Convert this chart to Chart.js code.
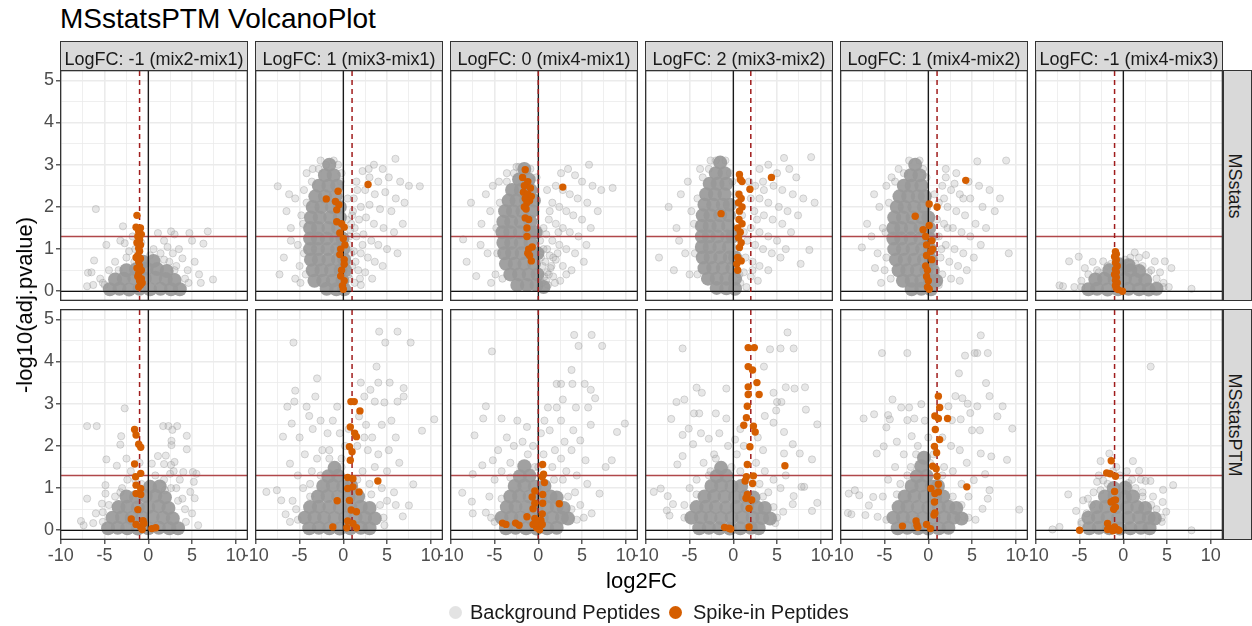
<!DOCTYPE html>
<html><head><meta charset="utf-8">
<script src="https://cdn.jsdelivr.net/npm/chart.js@4.4.1/dist/chart.umd.min.js"></script>
<style>
html,body{margin:0;padding:0;background:#fff;width:1252px;height:626px;overflow:hidden;position:relative;font-family:"Liberation Sans",Arial,Helvetica,sans-serif;}
canvas{position:absolute;}
.t{position:absolute;white-space:nowrap;}
.strip{position:absolute;background:#D9D9D9;border:1.3px solid #333;box-sizing:border-box;}
.key{position:absolute;width:13px;height:13px;border-radius:50%;}
</style></head><body>
<script>
// ---------------- data ----------------
const comparisons = ['mix2-mix1','mix3-mix1','mix4-mix1','mix3-mix2','mix4-mix2','mix4-mix3'];
const trueLogFC = [-1, 1, 0, 2, 1, -1];
const methods = ['MSstats', 'MSstatsPTM'];
const xTickValues = [-10,-7.5,-5,-2.5,0,2.5,5,7.5,10];
const xTickLabels = ['-10','','-5','','0','','5','','10'];
const yTickValues = [0,0.5,1,1.5,2,2.5,3,3.5,4,4.5,5];
const yTickLabels = ['0','','1','','2','','3','','4','','5'];
const sigThreshold = 1.3;
const legendLabels = ['Background Peptides','Spike-in Peptides'];

// background peptides, dense part of each cloud (x,y pairs)
const coreA1 = [-4.4,0.05,-3.3,0.06,-2.2,0.04,-1.0,0.06,0.2,0.05,1.4,0.06,2.6,0.05,3.6,0.05,-3.8,0.28,-2.8,0.3,-1.6,0.31,-0.4,0.3,0.8,0.32,2.0,0.29,3.0,0.27,-2.5,0.5,-1.4,0.52,-0.2,0.54,1.0,0.53,2.1,0.48,-0.6,0.7,0.6,0.72];
const coreA2 = [-1.6,3.0,-2.1,2.75,-1.1,2.75,-2.8,2.5,-1.7,2.5,-0.7,2.5,-3.2,2.25,-2.1,2.25,-0.9,2.25,-3.5,2.0,-2.5,2.0,-1.3,2.0,-0.4,2.0,-3.7,1.75,-2.7,1.75,-1.5,1.75,-0.4,1.75,-3.8,1.5,-2.9,1.5,-1.7,1.5,-0.6,1.5,-3.8,1.25,-2.9,1.25,-1.9,1.25,-0.8,1.25,-0.1,1.25,-3.8,1.0,-2.9,1.0,-1.8,1.0,-0.7,1.0,0.0,1.0,-3.7,0.75,-2.8,0.75,-1.7,0.75,-0.6,0.75,0.1,0.75,-3.5,0.5,-2.5,0.5,-1.4,0.5,-0.3,0.5,0.2,0.5,-3.3,0.25,-2.3,0.25,-1.2,0.25,-0.1,0.25,-1.9,0.06,-0.8,0.05,0.1,0.05];
const coreA3 = [-1.6,2.9,-2.2,2.65,-1.1,2.65,-3.0,2.4,-2.0,2.4,-0.9,2.4,-3.4,2.15,-2.5,2.15,-1.4,2.15,-0.5,2.15,-3.8,1.9,-2.9,1.9,-1.8,1.9,-0.7,1.9,-4.0,1.65,-3.1,1.65,-2.0,1.65,-0.9,1.65,-4.1,1.4,-3.2,1.4,-2.1,1.4,-1.0,1.4,-0.3,1.4,-4.0,1.15,-3.1,1.15,-2.0,1.15,-0.9,1.15,-3.9,0.9,-3.0,0.9,-1.9,0.9,-0.8,0.9,-0.1,0.9,-3.7,0.65,-2.7,0.65,-1.6,0.65,-0.5,0.65,-3.2,0.4,-2.2,0.4,-1.1,0.4,-0.1,0.4,-2.4,0.15,-1.3,0.15,-0.2,0.15,0.6,0.1];
const coreA4 = [-1.5,3.05,-2.0,2.8,-1.0,2.8,-2.7,2.55,-1.8,2.55,-0.8,2.55,-3.1,2.3,-2.1,2.3,-1.0,2.3,-3.3,2.05,-2.3,2.05,-1.2,2.05,-0.4,2.05,-3.5,1.8,-2.6,1.8,-1.5,1.8,-0.5,1.8,-3.6,1.55,-2.7,1.55,-1.7,1.55,-0.6,1.55,-3.6,1.3,-2.8,1.3,-1.8,1.3,-0.7,1.3,-0.1,1.3,-3.6,1.05,-2.7,1.05,-1.6,1.05,-0.5,1.05,-3.5,0.8,-2.6,0.8,-1.5,0.8,-0.4,0.8,0.2,0.8,-3.3,0.55,-2.3,0.55,-1.2,0.55,-0.1,0.55,-2.9,0.3,-1.9,0.3,-0.8,0.3,0.2,0.3,-1.9,0.08,-0.8,0.07,0.2,0.06];
const coreA5 = [-1.5,3.0,-2.0,2.75,-1.0,2.75,-2.8,2.5,-1.9,2.5,-0.8,2.5,-3.3,2.25,-2.3,2.25,-1.2,2.25,-0.4,2.25,-3.6,2.0,-2.7,2.0,-1.6,2.0,-0.5,2.0,-3.9,1.75,-2.9,1.75,-1.8,1.75,-0.7,1.75,0.0,1.75,-4.0,1.5,-3.1,1.5,-2.0,1.5,-0.9,1.5,0.1,1.5,-4.0,1.25,-3.1,1.25,-2.0,1.25,-0.9,1.25,0.1,1.25,-3.9,1.0,-2.9,1.0,-1.8,1.0,-0.7,1.0,0.2,1.0,-3.7,0.75,-2.7,0.75,-1.6,0.75,-0.5,0.75,0.3,0.75,-3.4,0.5,-2.4,0.5,-1.3,0.5,-0.2,0.5,0.5,0.5,-2.9,0.25,-1.9,0.25,-0.8,0.25,0.2,0.25,0.9,0.25,-1.9,0.05,-0.8,0.06,0.3,0.05];
const coreA6 = [-4.0,0.05,-3.0,0.06,-1.8,0.04,-0.6,0.05,0.6,0.06,1.8,0.05,2.9,0.04,3.8,0.06,-3.2,0.28,-2.2,0.3,-1.0,0.28,0.2,0.3,1.4,0.28,2.5,0.27,-1.6,0.5,-0.4,0.52,0.8,0.5,1.8,0.48,-0.5,0.64,0.6,0.62];
const coreB1 = [-4.6,0.05,-3.5,0.06,-2.4,0.05,-1.2,0.04,0.0,0.05,1.2,0.06,2.4,0.05,3.4,0.05,-4.1,0.3,-3.0,0.31,-1.9,0.29,-0.7,0.3,0.5,0.32,1.7,0.3,2.8,0.28,-3.4,0.55,-2.4,0.56,-1.2,0.54,0.0,0.55,1.2,0.57,2.3,0.53,-2.5,0.8,-1.4,0.79,-0.3,0.81,0.8,0.82,1.9,0.78,0.2,1.03,1.3,1.04];
const coreB2 = [-3.9,0.05,-2.8,0.06,-1.6,0.05,-0.4,0.04,0.8,0.05,2.0,0.06,3.0,0.05,-4.4,0.3,-3.3,0.31,-2.2,0.3,-1.0,0.29,0.2,0.3,1.4,0.31,2.5,0.3,3.6,0.28,-3.8,0.55,-2.8,0.56,-1.6,0.55,-0.4,0.54,0.8,0.55,2.0,0.56,3.0,0.53,-2.9,0.8,-1.8,0.81,-0.6,0.8,0.6,0.79,1.7,0.8,-2.3,1.05,-1.2,1.06,0.0,1.04,0.9,1.05,-1.7,1.28,-0.6,1.29,-1.0,1.48];
const coreB3 = [-3.7,0.05,-2.6,0.06,-1.4,0.05,-0.2,0.04,1.0,0.05,2.1,0.06,-4.2,0.3,-3.1,0.31,-2.0,0.3,-0.8,0.29,0.4,0.3,1.6,0.31,2.7,0.3,3.4,0.28,-3.6,0.55,-2.6,0.56,-1.4,0.55,-0.2,0.54,1.0,0.55,2.1,0.56,2.9,0.53,-3.2,0.8,-2.2,0.81,-1.0,0.8,0.2,0.79,1.4,0.8,2.1,0.78,-2.7,1.05,-1.6,1.06,-0.4,1.04,0.7,1.05,-2.1,1.28,-1.0,1.29,-1.6,1.52];
const coreB4 = [-3.9,0.05,-2.8,0.06,-1.6,0.05,-0.4,0.04,0.8,0.05,2.0,0.06,2.9,0.05,-4.8,0.3,-3.7,0.31,-2.6,0.3,-1.4,0.29,-0.2,0.3,1.0,0.31,2.2,0.3,3.3,0.29,4.2,0.28,-4.2,0.55,-3.1,0.56,-2.0,0.55,-0.8,0.54,0.4,0.55,1.6,0.56,2.7,0.54,3.6,0.53,-3.3,0.8,-2.2,0.81,-1.0,0.8,0.2,0.79,1.4,0.8,2.3,0.78,-2.5,1.05,-1.4,1.06,-0.2,1.04,0.9,1.05,-1.9,1.28,-0.8,1.29,-1.4,1.48];
const coreB5 = [-3.5,0.05,-2.4,0.06,-1.2,0.05,0.0,0.04,1.2,0.05,2.3,0.06,-4.0,0.3,-2.9,0.31,-1.8,0.3,-0.6,0.29,0.6,0.3,1.8,0.31,2.9,0.3,3.8,0.28,-3.4,0.55,-2.4,0.56,-1.2,0.55,0.0,0.54,1.2,0.55,2.3,0.56,3.2,0.53,-2.7,0.8,-1.6,0.81,-0.4,0.8,0.8,0.79,1.7,0.8,-1.9,1.05,-0.8,1.06,0.4,1.04,1.1,1.05,-1.3,1.28,-0.2,1.29,-0.8,1.52,-0.5,1.72];
const coreB6 = [-3.9,0.05,-2.8,0.06,-1.6,0.05,-0.4,0.04,0.8,0.05,2.0,0.06,3.0,0.05,-4.0,0.3,-2.9,0.31,-1.8,0.3,-0.6,0.29,0.6,0.3,1.8,0.31,2.9,0.3,3.6,0.28,-3.1,0.55,-2.0,0.56,-0.8,0.55,0.4,0.54,1.6,0.55,2.5,0.53,-2.1,0.8,-1.0,0.81,0.2,0.79,1.1,0.8,-1.1,1.0,0.2,1.01];

// background peptides, scattered part of each cloud (x,y pairs)
const sparseA1 = [-6.0,1.95,-2.9,1.54,-2.7,1.14,-3.2,1.2,1.1,1.38,2.6,1.42,3.0,1.35,4.7,1.38,6.8,1.42,5.0,1.2,6.3,1.13,-4.8,1.1,-6.2,0.73,-6.9,0.44,-6.5,0.45,7.4,0.28,-7.0,0.12,-6.3,0.15,5.3,0.7,3.9,0.78,1.8,1.2,2.2,1.05,3.5,1.0,-1.8,1.3,-2.2,0.95,-3.8,0.7,-4.5,0.5,4.5,0.5,5.8,0.4,0.6,1.0,1.4,0.9,2.8,0.9,-5.5,0.3,6.0,0.2,-2.5,0.8,3.2,0.6,-1.5,1.0,0.2,0.85,-0.8,1.15,4.2,0.3,-5.0,0.15,2.4,0.7,-5.2,0.2,4.6,0.2,-3.4,0.5,3.0,0.5,-1.6,0.7,1.8,0.75];
const sparseA2 = [5.96,3.14,8.75,2.49,3.5,3.0,4.5,2.9,2.2,2.85,3.0,2.7,4.0,2.6,5.2,2.7,6.5,2.6,7.5,2.5,1.5,2.6,2.5,2.4,3.6,2.3,4.8,2.35,6.0,2.2,7.0,2.1,1.2,2.2,2.0,2.0,3.0,2.05,4.2,1.95,5.5,1.9,6.8,1.6,1.0,1.8,1.8,1.7,2.6,1.75,3.5,1.6,4.6,1.5,5.8,1.4,0.8,1.45,1.5,1.3,2.3,1.35,3.2,1.2,4.0,1.1,5.0,1.0,6.2,0.9,0.6,1.1,1.2,0.95,2.0,0.9,2.8,0.8,3.6,0.7,4.5,0.6,0.5,0.7,1.0,0.6,1.7,0.5,2.5,0.45,3.3,0.3,0.7,0.3,1.3,0.2,2.0,0.15,0.9,1.6,1.6,2.4,2.9,2.9,-7.5,2.49,-7.3,0.4,-6.5,1.9,-6.0,1.5,-5.5,2.2,-5.2,1.1,-6.8,0.8,-5.0,0.6,-4.8,1.8,-5.5,0.3,-4.5,2.4,-4.2,2.8,-3.5,2.9,-6.2,2.3,-6.0,1.2,-4.9,0.2,-2.6,3.1,-0.6,3.0,-0.3,2.6,0.6,0.4,0.9,0.9,1.4,0.7,0.7,1.3,1.1,1.9,0.5,2.2,1.3,1.5,0.4,1.7,2.2,1.1,1.9,0.3,-4.6,1.6,-4.5,0.9,-4.2,2.1,-3.6,2.6,-2.8,2.9,-4.3,0.4,-0.2,2.8,-1.1,3.1,-2.0,3.0];
const sparseA3 = [5.8,3.0,8.5,2.45,2.6,2.8,3.4,2.9,4.2,2.75,5.0,2.6,6.2,2.5,7.2,2.4,2.0,2.5,2.8,2.4,3.6,2.3,4.5,2.2,5.6,2.1,6.8,1.9,1.6,2.1,2.4,2.0,3.2,1.9,4.0,1.8,5.0,1.7,6.0,1.5,1.2,1.7,2.0,1.6,2.8,1.5,3.6,1.4,4.6,1.3,5.5,1.1,0.9,1.35,1.6,1.2,2.4,1.1,3.2,1.0,4.2,0.9,5.2,0.7,0.6,1.0,1.3,0.85,2.0,0.75,2.8,0.6,3.8,0.5,0.5,0.6,1.0,0.45,1.7,0.35,2.5,0.25,0.4,0.2,1.1,0.15,0.8,0.7,1.4,0.55,2.2,0.9,1.0,1.0,0.7,0.35,-8.6,1.23,-7.7,2.1,-8.2,0.7,-7.1,0.36,-6.5,1.6,-6.0,2.3,-5.8,0.9,-5.5,1.9,-6.6,1.1,-5.2,2.5,-4.9,0.4,-4.5,2.6,-3.6,2.8,-5.4,0.2,-2.5,2.95,-0.8,2.6,-0.3,2.2,-4.8,1.5,-4.7,0.9,-4.4,2.1,-3.6,2.6,-2.8,2.8,-4.1,0.3,-0.2,2.7,-0.9,2.9,-2.2,2.95,0.3,0.8,0.6,1.5,1.3,1.9,0.2,1.2,2.3,1.4,1.0,2.4,1.9,0.2,3.2,0.4,1.2,0.4,1.7,0.8,0.9,0.25,1.5,0.6];
const sparseA4 = [5.8,3.16,8.9,3.18,9.3,2.1,8.7,0.98,7.7,0.65,3.0,2.9,4.0,3.0,5.0,2.8,6.4,2.9,7.2,2.7,2.5,2.5,3.4,2.6,4.6,2.5,5.6,2.4,6.8,2.3,8.0,2.2,2.0,2.2,3.0,2.2,4.0,2.1,5.2,2.0,6.2,1.9,7.4,1.8,2.4,1.9,3.5,1.8,4.5,1.7,5.6,1.6,6.6,1.4,2.0,1.5,3.0,1.4,4.0,1.3,5.0,1.2,6.0,1.0,1.6,1.2,2.5,1.1,3.4,1.0,4.4,0.9,5.4,0.8,1.4,0.8,2.2,0.7,3.0,0.6,4.0,0.5,1.2,0.45,2.0,0.35,2.8,0.25,0.8,0.2,1.5,0.1,3.5,2.4,2.7,1.7,-7.4,2.0,-8.5,0.8,-6.5,1.5,-6.0,2.3,-5.5,0.9,-6.8,0.5,-5.2,2.6,-4.8,1.9,-5.0,0.4,-6.2,1.2,-3.8,2.9,-2.6,3.1,-0.4,2.8,-4.5,1.6,-4.4,0.9,-4.1,2.2,-3.5,2.7,-2.8,2.9,-4.1,0.4,-0.1,2.6,-0.9,3.1,0.5,1.0,1.0,1.8,0.3,2.3,1.8,2.6,2.2,0.5,0.7,0.4,1.2,1.4,-2.0,3.1];
const sparseA5 = [5.6,3.08,8.9,3.1,9.2,0.9,-6.1,0.55,-7.6,1.04,2.0,2.9,3.2,2.8,4.6,2.6,5.8,2.5,7.0,2.4,8.2,2.2,1.6,2.5,2.6,2.4,3.6,2.3,4.8,2.2,6.2,2.0,7.6,1.9,1.2,2.1,2.2,2.0,3.2,1.9,4.2,1.8,5.4,1.6,6.6,1.5,1.0,1.7,1.8,1.6,2.8,1.5,3.8,1.4,4.8,1.3,6.0,1.1,1.2,1.3,2.0,1.1,3.0,1.0,4.0,0.9,5.2,0.8,1.4,0.8,2.4,0.7,3.4,0.6,4.4,0.5,1.6,0.4,2.6,0.3,3.6,0.25,1.2,0.15,2.0,2.7,3.0,2.55,4.0,2.2,-6.2,2.3,-5.6,2.0,-5.2,1.5,-6.5,1.3,-5.8,0.9,-5.0,0.5,-7.0,1.6,-4.8,2.5,-4.2,2.7,-3.4,2.9,-5.4,0.2,-2.2,3.1,-0.6,2.9,-4.9,1.4,-4.8,0.8,-4.5,2.1,-3.8,2.6,-2.8,2.8,-4.3,0.3,0.7,2.3,0.9,1.3,0.6,0.6,1.5,1.0,1.8,2.2,-0.2,2.7,-1.0,3.1,0.9,0.3,2.2,1.5];
const sparseA6 = [-6.2,0.71,-5.1,0.82,1.3,0.92,2.6,0.86,3.6,0.71,4.75,0.71,5.5,0.55,7.8,0.06,-7.3,0.14,-6.9,0.12,-2.3,0.71,-3.5,0.7,1.8,0.8,0.8,0.8,2.2,0.6,3.2,0.5,4.2,0.45,-3.0,0.5,-4.0,0.4,-4.8,0.25,4.6,0.2,5.2,0.1,-5.6,0.1,-1.8,0.6,0.2,0.75,3.8,0.3,-4.4,0.55,-4.8,0.1,4.6,0.1,-2.8,0.45,2.9,0.45,-1.4,0.65,1.4,0.65];
const sparseB1 = [-2.7,2.89,-7.0,2.47,-5.9,2.47,-3.1,2.23,-3.2,2.03,1.7,2.47,2.3,2.47,3.3,2.47,2.75,2.38,2.65,2.12,2.65,2.02,4.4,2.24,4.4,1.92,-4.8,1.68,-3.6,1.53,1.1,1.76,2.0,1.77,1.8,1.57,2.6,1.55,3.0,1.62,4.0,1.38,5.1,1.38,5.5,1.34,5.2,1.15,4.8,0.91,5.3,0.76,5.7,0.12,-7.0,0.75,-7.7,0.22,-7.4,0.12,-4.9,1.07,-4.9,0.87,-5.3,0.63,-6.3,0.17,-5.2,0.43,-2.5,1.7,-2.4,1.2,-1.0,1.6,0.4,1.58,3.9,0.75,4.2,0.5,1.8,1.2,2.5,1.34,-3.0,1.0,-2.0,1.4,3.2,1.0,-1.5,1.2,0.8,1.3,3.6,1.2,-3.8,0.8,-6.0,0.4,5.0,0.4,2.9,1.4,-5.2,0.2,-4.5,0.6,4.3,0.2,3.4,0.7,-3.2,0.9,2.6,1.0,-0.8,1.1,1.9,0.95];
const sparseB2 = [4.1,4.71,6.2,4.71,-5.7,4.45,4.8,4.45,7.7,4.45,3.8,3.88,-3.0,3.6,-5.5,3.31,-5.6,3.05,-3.2,3.17,-6.4,2.93,-4.2,2.93,-3.9,2.71,-0.7,2.93,2.0,3.5,3.1,3.33,4.0,3.5,5.3,3.5,6.9,3.37,6.9,3.17,6.2,3.05,4.7,3.03,3.6,3.05,2.4,3.17,10.4,2.63,9.0,2.36,-6.9,2.22,-5.9,2.53,-8.8,0.91,-7.6,0.95,-7.1,0.71,-6.6,0.38,-6.1,0.2,8.0,1.09,7.5,0.59,6.8,0.33,4.7,0.12,-6.1,1.58,-5.0,2.2,-4.4,1.8,-5.2,1.3,-3.5,2.4,-2.6,2.6,-1.8,2.3,-2.4,1.9,-1.2,2.6,-0.4,2.3,0.2,2.0,-0.2,1.7,1.8,2.7,2.6,2.5,3.3,2.2,4.4,2.5,5.5,2.6,6.0,2.2,5.2,1.9,4.0,1.8,2.8,1.9,3.6,1.5,5.0,1.4,6.4,1.6,2.2,1.4,3.0,1.1,4.4,1.0,5.8,0.9,-3.6,1.4,-4.6,1.0,-5.8,0.7,-3.8,1.1,1.6,2.0,0.6,2.4,6.0,0.6,5.0,0.7,-5.4,0.5,2.4,2.2,-1.6,1.9,-3.0,1.7,-5.2,0.25,4.6,0.3,-3.8,0.8,3.2,0.85,-2.6,1.3,1.6,1.2,-0.2,1.5,-1.6,1.7,4.2,0.6];
const sparseB3 = [4.1,4.63,6.1,4.63,4.6,4.37,7.3,4.37,-5.3,4.24,3.8,3.8,3.9,3.47,2.1,3.47,2.6,3.47,5.3,3.47,6.0,3.33,6.5,3.13,2.8,3.1,1.1,2.91,2.1,2.91,4.3,2.91,5.7,2.91,-6.0,2.94,-6.3,2.65,-7.3,2.25,9.9,2.53,9.0,2.33,-8.7,0.89,-7.5,1.33,-6.4,1.54,-7.6,0.68,-7.5,0.4,-6.0,0.42,8.4,1.66,7.7,1.5,7.0,0.87,6.1,0.4,0.7,2.6,2.6,2.6,6.0,2.5,-4.2,2.65,-2.4,2.6,-1.3,2.45,-3.6,2.2,0.3,2.3,1.3,2.37,4.0,2.37,4.8,2.13,3.8,1.9,5.4,1.66,-4.6,1.9,-5.2,1.66,1.9,1.9,-2.8,2.0,-1.8,2.1,-0.6,2.0,0.6,1.8,2.6,1.7,3.2,1.4,4.4,1.3,5.6,1.1,-5.0,1.2,-4.2,1.4,-5.6,0.8,1.6,1.5,2.8,1.2,4.2,0.9,4.8,0.6,5.2,0.3,-5.4,0.3,-3.2,1.6,0.0,1.5,3.0,2.1,-5.0,0.2,4.4,0.25,-4.2,0.75,3.4,0.8,-3.2,1.25,1.8,1.2,-0.4,1.5,-1.2,1.8,3.8,0.5];
const sparseB4 = [6.2,4.69,-5.8,4.31,4.2,4.29,5.4,4.31,6.9,4.31,3.5,3.88,-4.2,3.38,-3.6,3.26,-0.8,3.36,-6.5,3.04,-5.6,3.1,4.6,3.26,6.0,3.39,7.0,3.36,8.2,3.39,5.0,3.04,5.5,3.04,8.3,2.86,-4.5,2.77,-3.9,2.77,-2.0,2.77,-7.1,2.64,-0.8,2.65,3.6,2.71,4.9,2.84,9.6,2.51,4.6,2.55,5.8,2.33,-5.8,2.26,-5.1,2.41,-4.6,2.04,-3.7,2.3,-2.8,2.17,6.8,2.04,9.0,1.68,7.6,1.82,5.8,1.82,-6.4,1.56,-5.8,1.76,-9.1,0.91,-8.3,0.99,-7.5,0.81,-6.9,0.62,-7.6,0.47,-7.3,0.35,9.6,0.65,9.0,0.46,7.8,1.03,8.1,1.03,6.9,0.81,6.8,0.62,5.7,0.44,4.8,0.17,0.2,2.15,0.8,2.4,1.2,2.0,2.8,2.2,3.4,1.9,2.6,1.6,0.4,1.8,-0.6,2.0,-1.6,2.3,-2.2,1.8,-3.4,1.6,-4.2,1.2,-5.0,1.0,-5.6,0.6,3.6,1.4,4.6,1.2,5.4,1.0,4.0,0.9,6.0,1.3,-2.6,1.4,0.8,1.4,3.0,1.1,-5.6,0.3,5.0,0.3,-4.2,0.85,3.4,0.8,-2.8,1.3,1.6,1.2,-0.2,1.5,-2.0,1.7,4.6,0.55];
const sparseB5 = [6.0,4.62,-5.3,4.2,-2.4,4.2,4.2,4.14,5.3,4.2,5.6,4.2,6.8,4.2,3.5,3.72,6.6,3.49,7.0,3.18,-4.1,3.1,3.1,3.18,3.9,3.13,4.5,3.0,5.6,2.94,8.5,2.94,-0.8,2.99,-3.1,2.91,-2.2,2.91,-7.4,2.65,-6.2,2.75,-4.6,2.73,-4.4,2.63,-2.4,2.61,-1.6,2.65,2.3,2.94,2.7,2.61,3.7,2.63,4.8,2.78,7.9,2.7,9.6,2.41,5.0,2.37,5.9,2.37,-4.8,2.44,-1.9,2.23,-5.9,1.82,-5.1,1.99,9.0,1.67,7.2,1.75,6.0,1.82,6.5,1.33,-9.1,0.87,-8.4,0.95,-7.9,0.83,-9.2,0.41,-8.8,0.38,-7.2,0.36,-6.8,0.59,-6.3,0.79,10.4,0.49,7.0,0.95,6.8,0.75,6.2,0.51,5.4,0.25,4.1,0.32,-5.8,0.32,5.2,1.19,-3.6,2.1,-2.8,1.8,-3.8,1.5,-4.6,1.2,-5.2,0.8,1.6,2.2,2.6,2.0,3.6,1.9,4.4,1.6,2.8,1.4,3.8,1.1,4.6,0.8,-1.2,2.0,0.0,2.2,-0.4,2.6,0.6,1.8,-2.0,1.5,1.8,1.5,-3.2,1.1,-4.8,0.25,4.6,0.3,-3.6,0.85,2.8,0.8,-2.4,1.3,1.6,1.3,0.2,1.6,-1.4,1.8,3.8,0.6];
const sparseB6 = [3.13,3.88,-1.6,1.82,-2.6,1.64,1.1,1.64,1.8,1.41,2.55,1.17,3.1,1.17,5.7,1.07,4.55,0.96,-6.3,0.85,-3.0,1.15,-4.05,0.75,-4.6,0.71,-5.4,0.46,4.9,0.44,4.5,0.67,-8.1,0.02,-7.3,0.08,7.8,0.0,0.6,1.12,-2.3,1.18,-3.4,0.9,-1.2,1.4,-0.4,1.3,1.4,1.0,2.2,0.9,3.4,0.8,-4.2,0.4,3.8,0.5,4.4,0.2,-4.8,0.15,-2.8,1.3,2.0,1.2,-0.8,1.5,0.4,1.4,-4.8,0.2,4.4,0.3,-3.6,0.6,3.2,0.6,-2.6,0.95,2.2,0.8,-1.8,1.1,1.0,1.2];

// spike-in peptides (x,y pairs)
const spikeA1 = [-1.3,1.8,-1.4,1.52,-0.9,1.5,-1.1,1.42,-0.8,1.35,-1.2,1.3,-1.0,1.22,-1.3,1.15,-0.9,1.1,-1.1,1.02,-1.0,0.95,-1.2,0.85,-1.4,0.8,-0.9,0.78,-1.1,0.7,-1.0,0.6,-1.3,0.55,-0.8,0.5,-1.1,0.42,-1.2,0.35,-0.8,0.3,-1.0,0.25,-0.9,0.15,-1.1,0.1,-0.7,0.2];
const spikeA2 = [-0.6,2.37,-1.95,2.19,-0.9,2.13,-0.75,1.93,-0.5,2.05,2.83,2.53,-0.75,1.65,0.1,1.52,-0.2,1.6,-0.4,1.38,0.0,1.25,0.18,1.1,-0.3,1.0,-0.4,0.87,0.1,0.75,0.1,0.64,-0.2,0.5,-0.3,0.36,0.1,0.25,-0.1,0.13,0.0,0.05];
const spikeA3 = [-1.5,2.88,-1.8,2.7,-1.2,2.6,-1.6,2.5,-0.9,2.45,-1.7,2.35,-1.2,2.3,-0.8,2.25,-1.5,2.2,-1.0,2.15,-1.3,2.1,-1.6,2.0,-1.4,1.95,2.8,2.47,-1.5,1.74,-1.1,1.7,-1.3,1.5,-1.3,1.3,-1.1,1.0,-1.2,0.9,-0.8,0.72,-1.0,0.85,-0.7,1.05];
const spikeA4 = [0.7,2.77,1.0,2.6,0.8,2.65,1.9,2.42,0.65,2.3,0.9,2.2,0.6,2.1,1.0,2.0,0.7,1.9,-1.4,1.84,4.36,2.7,0.65,1.7,1.0,1.6,0.5,1.5,0.8,1.4,0.6,1.27,0.9,1.15,0.7,1.04,0.5,0.8,0.9,0.72,0.4,0.65,0.5,0.5];
const spikeA5 = [4.28,2.63,0.1,2.07,1.0,2.0,-1.5,1.78,-0.6,1.46,0.1,1.56,-0.3,1.3,0.4,1.2,-0.2,1.1,0.3,0.95,-0.2,0.85,0.4,0.75,-0.3,0.6,-0.1,0.5,-0.2,0.35,0.0,0.25,-0.1,0.1,0.1,0.05,0.5,1.0];
const spikeA6 = [-0.9,0.94,-0.8,0.88,-1.0,0.82,-0.8,0.75,-0.9,0.68,-0.7,0.6,-0.9,0.52,-0.8,0.45,-1.0,0.4,-0.8,0.33,-0.9,0.26,-0.7,0.2,-0.9,0.14,-0.8,0.08,-0.6,0.04,-0.1,0.0];
const spikeB1 = [-1.57,2.39,-1.4,2.26,-1.1,2.04,-0.87,1.97,-1.57,1.57,-1.45,1.27,-0.87,1.35,-1.4,1.07,-0.87,0.99,-1.4,0.87,-0.87,0.85,-1.2,0.49,-1.95,0.27,-0.6,0.23,-1.4,0.14,-0.87,0.08,-0.7,0.02,0.4,0.04,0.85,0.06,-0.5,0.16];
const spikeB2 = [0.87,3.05,1.25,3.05,1.9,2.83,0.8,2.45,1.3,2.3,1.5,2.22,0.7,1.98,1.0,1.86,0.8,1.66,0.5,1.25,1.1,1.22,3.95,1.17,0.5,0.99,1.1,1.03,1.8,0.91,-0.7,0.7,0.7,0.71,0.9,0.48,1.5,0.44,-1.2,0.08,0.5,0.22,1.1,0.16,1.5,0.06,0.4,0.06];
const spikeB3 = [0.49,1.56,0.6,1.33,0.45,1.27,0.7,1.13,-0.4,0.93,0.5,0.85,-0.7,0.79,2.4,0.63,-0.4,0.64,0.5,0.64,-0.6,0.51,0.45,0.39,-1.3,0.32,-0.4,0.28,0.3,0.24,-4.1,0.17,-3.7,0.14,-2.6,0.17,-2.2,0.12,-0.6,0.14,-0.2,0.06,0.15,0.01,-0.15,0.17,0.45,0.14];
const spikeB4 = [1.7,4.33,2.4,4.33,1.7,3.88,2.2,3.8,2.7,3.5,1.7,3.4,2.95,3.22,1.7,3.22,1.6,2.94,1.5,2.67,1.2,2.49,2.3,2.47,2.5,2.33,1.9,1.98,1.6,1.56,5.9,1.53,1.5,1.27,2.3,1.29,1.35,1.17,2.2,1.11,1.6,0.85,1.45,0.76,2.1,0.72,1.8,0.52,1.8,0.08,-1.0,0.07,-0.5,0.05,-0.3,0.03];
const spikeB5 = [1.15,3.18,1.3,2.91,0.75,2.71,2.2,2.65,1.15,2.65,0.8,2.39,1.3,2.15,0.7,1.99,0.95,1.84,0.5,1.52,0.9,1.46,1.0,1.28,1.15,1.09,0.3,0.99,4.4,1.03,1.15,0.91,0.75,0.87,0.7,0.67,0.75,0.41,0.65,0.36,-2.96,0.1,-1.4,0.22,-1.3,0.12,-1.2,0.07,-0.2,0.14,0.25,0.04];
const spikeB6 = [-1.38,1.65,-1.9,1.36,-1.5,1.34,-0.9,1.28,-1.0,0.92,-1.1,0.71,-1.4,0.67,-0.9,0.72,-5.0,0.0,-1.8,0.16,-1.4,0.04,-1.0,0.08,-0.7,0.02,-1.8,0.02,-0.5,0.0,-1.2,-0.01,-1.1,0.5,-0.9,0.55];

const coreData = [[coreA1,coreA2,coreA3,coreA4,coreA5,coreA6],[coreB1,coreB2,coreB3,coreB4,coreB5,coreB6]];
const sparseData = [[sparseA1,sparseA2,sparseA3,sparseA4,sparseA5,sparseA6],[sparseB1,sparseB2,sparseB3,sparseB4,sparseB5,sparseB6]];
const spikeData = [[spikeA1,spikeA2,spikeA3,spikeA4,spikeA5,spikeA6],[spikeB1,spikeB2,spikeB3,spikeB4,spikeB5,spikeB6]];

// ---------------- layout / style ----------------
const FONT = '"Liberation Sans", Arial, Helvetica, sans-serif';
const X0 = 60, STEP = 195, PW = 188, PH = 231, ROW_TOP = [70, 309];
const XMIN = -10.1, XMAX = 11.4, YMIN = -0.23, YMAX = 5.245;
const GREY = 'rgba(153,153,153,';
const ORANGE = '#D55E00';

function pairs(a){ const o=[]; for(let i=0;i<a.length;i+=2) o.push({x:a[i], y:a[i+1]}); return o; }
function addText(txt, css){ const d=document.createElement('div'); d.className='t'; d.textContent=txt; Object.assign(d.style, css); document.body.appendChild(d); return d; }

const framePlugin = {
  id:'frame',
  afterDraw(chart){
    const {ctx, chartArea:a} = chart;
    ctx.save(); ctx.strokeStyle='#333333'; ctx.lineWidth=1.3;
    ctx.strokeRect(a.left+0.65, a.top+0.65, a.right-a.left-1.3, a.bottom-a.top-1.3);
    ctx.restore();
  }
};

function lineDS(pts, color, width, dash, order){
  return {type:'line', data:pts, borderColor:color, borderWidth:width, borderDash:dash||[], pointRadius:0, fill:false, order:order, tension:0};
}

function makePanel(r, c){
  const left = X0 + STEP*c, top = ROW_TOP[r];
  const padL = c===0 ? 60 : (r===1 ? 22 : 0);
  const padB = r===1 ? 40 : 0;
  const cv = document.createElement('canvas');
  cv.width = PW + padL; cv.height = PH + padB;
  cv.style.left = (left - padL) + 'px'; cv.style.top = top + 'px';
  cv.style.width = cv.width + 'px'; cv.style.height = cv.height + 'px';
  document.body.appendChild(cv);
  const fc = trueLogFC[c];
  const datasets = [
    {label:legendLabels[1], data:pairs(spikeData[r][c]), backgroundColor:ORANGE, borderWidth:0, pointRadius:3.7, order:0},
    lineDS([{x:fc,y:YMIN},{x:fc,y:YMAX}], '#A01C1C', 1.5, [5,4], 1),
    lineDS([{x:0,y:YMIN},{x:0,y:YMAX}], '#111111', 1.3, null, 1.2),
    lineDS([{x:XMIN,y:0},{x:XMAX,y:0}], '#111111', 1.3, null, 1.2),
    lineDS([{x:XMIN,y:sigThreshold},{x:XMAX,y:sigThreshold}], '#B0474A', 1.5, null, 1.2),
    {label:legendLabels[0], data:pairs(sparseData[r][c]), backgroundColor:GREY+'0.24)', borderColor:GREY+'0.36)', borderWidth:1, pointRadius:3.6, order:2},
    {label:legendLabels[0], data:pairs(coreData[r][c]), backgroundColor:GREY+'0.92)', borderWidth:0, pointRadius:7, order:3}
  ];
  new Chart(cv, {
    type:'scatter',
    data:{datasets},
    options:{
      responsive:false, animation:false, events:[], devicePixelRatio:1,
      layout:{padding:0, autoPadding:false},
      plugins:{legend:{display:false}, tooltip:{enabled:false}, title:{display:false}},
      scales:{
        x:{
          type:'linear', min:XMIN, max:XMAX,
          afterBuildTicks:s=>{ s.ticks = xTickValues.map(v=>({value:v})); },
          afterFit:s=>{ s.height=padB; s.paddingLeft=0; s.paddingRight=0; s.paddingTop=0; s.paddingBottom=0; },
          ticks:{display:r===1, autoSkip:false, maxRotation:0, minRotation:0, padding:1, color:'#4D4D4D',
                 font:{family:FONT, size:18}, callback:(v,i)=>xTickLabels[i]},
          grid:{color:'#EBEBEB', lineWidth:ctx=>(ctx.tick && ctx.tick.value%5===0)?1.6:0.8,
                drawTicks:r===1, tickLength:4, tickWidth:1.2,
                tickColor:ctx=>(ctx.tick && ctx.tick.value%5===0)?'#333333':'rgba(0,0,0,0)'},
          border:{display:false}
        },
        y:{
          type:'linear', min:YMIN, max:YMAX,
          afterBuildTicks:s=>{ s.ticks = yTickValues.map(v=>({value:v})); },
          afterFit:s=>{ s.width=padL; s.paddingLeft=0; s.paddingRight=0; s.paddingTop=0; s.paddingBottom=0; },
          ticks:{display:c===0, autoSkip:false, padding:2, color:'#4D4D4D',
                 font:{family:FONT, size:18}, callback:(v,i)=>yTickLabels[i]},
          grid:{color:'#EBEBEB', lineWidth:ctx=>(ctx.tick && Number.isInteger(ctx.tick.value))?1.6:0.8,
                drawTicks:c===0, tickLength:4, tickWidth:1.2,
                tickColor:ctx=>(ctx.tick && Number.isInteger(ctx.tick.value))?'#333333':'rgba(0,0,0,0)'},
          border:{display:false}
        }
      }
    },
    plugins:[framePlugin]
  });
}

for (let r=0;r<2;r++) for (let c=0;c<6;c++) makePanel(r,c);

// strips (facet labels)
for (let c=0;c<6;c++){
  const left = X0 + STEP*c;
  const s = document.createElement('div'); s.className='strip';
  Object.assign(s.style,{left:left+'px', top:'41px', width:PW+'px', height:'30px'});
  document.body.appendChild(s);
  const lbl = 'LogFC: ' + trueLogFC[c] + ' (' + comparisons[c] + ')';
  addText(lbl, {left:left+'px', width:PW+'px', textAlign:'center', top:'49.8px', fontSize:'18px', lineHeight:'18px', color:'#1A1A1A'});
}
for (let r=0;r<2;r++){
  const s = document.createElement('div'); s.className='strip';
  Object.assign(s.style,{left:'1223px', top:ROW_TOP[r]+'px', width:'29px', height:PH+'px'});
  document.body.appendChild(s);
  addText(methods[r], {left:'1234.5px', top:(ROW_TOP[r]+PH/2)+'px', fontSize:'18px', lineHeight:'18px', color:'#1A1A1A',
    transform:'translate(-50%,-50%) rotate(90deg)'});
}

// titles
addText('MSstatsPTM VolcanoPlot', {left:'60px', top:'4.6px', fontSize:'28px', lineHeight:'28px', color:'#000'});
addText('log2FC', {left:(X0 + (STEP*5+PW)/2)+'px', top:'570.4px', fontSize:'22px', lineHeight:'22px', color:'#000', transform:'translateX(-50%)'});
addText('-log10(adj.pvalue)', {left:'25.4px', top:'305px', fontSize:'22px', lineHeight:'22px', color:'#000', transform:'translate(-50%,-50%) rotate(-90deg)'});

// legend
function addKey(cx, color){ const k=document.createElement('div'); k.className='key'; Object.assign(k.style,{left:(cx-6.5)+'px', top:'605.5px', background:color}); document.body.appendChild(k); }
addKey(455, 'rgba(153,153,153,0.28)');
addText(legendLabels[0], {left:'470px', top:'602px', fontSize:'20px', lineHeight:'20px', color:'#1A1A1A'});
addKey(675, ORANGE);
addText(legendLabels[1], {left:'693px', top:'602px', fontSize:'20px', lineHeight:'20px', color:'#1A1A1A'});
</script>
</body></html>
